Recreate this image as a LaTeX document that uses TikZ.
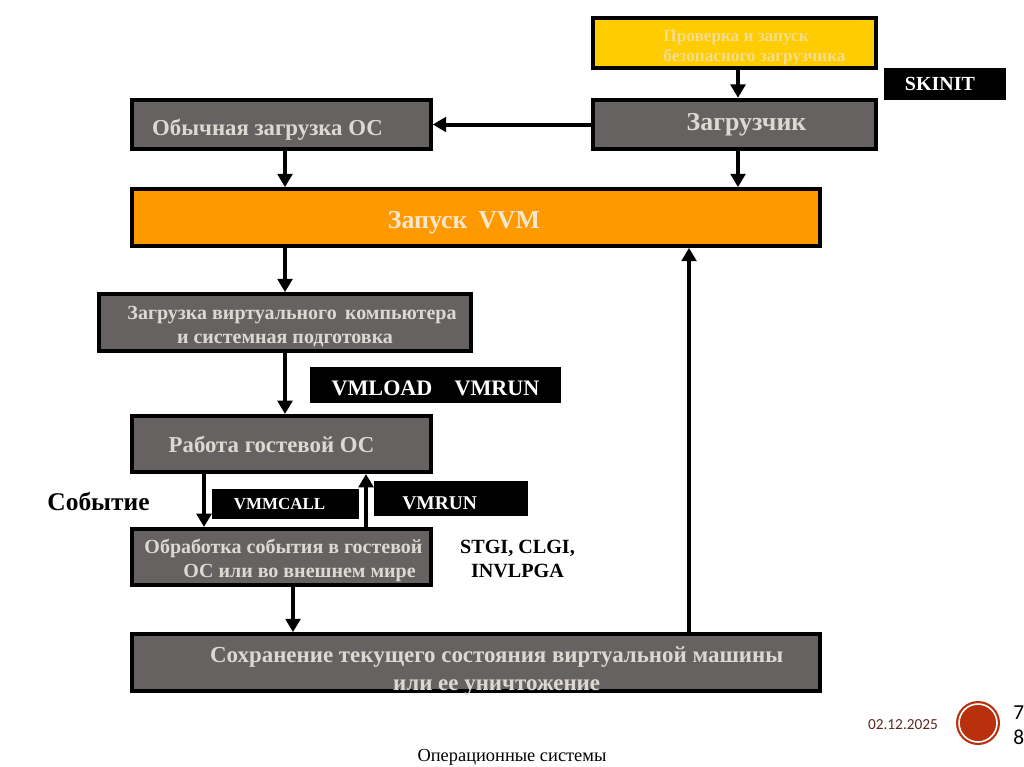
\documentclass[tikz,border=0pt]{standalone}
\usepackage{fontspec}
\setmainfont{Liberation Serif}
\newfontfamily\footfont{Carlito}
\usetikzlibrary{arrows.meta}
\usetikzlibrary{positioning}
\definecolor{boxgray}{HTML}{666262}
\definecolor{boxtext}{HTML}{DDD9D2}
\definecolor{boxyellow}{HTML}{FFCC00}
\definecolor{yellowtext}{HTML}{F2DC8E}
\definecolor{boxorange}{HTML}{FF9900}
\definecolor{orangetext}{HTML}{F5E6CF}
\definecolor{sealred}{HTML}{B8300C}
\definecolor{datecolor}{HTML}{5A2A22}
\newcommand{\lowered}[2]{\raisebox{-#1}[0pt][0pt]{#2}}
\begin{document}
\begin{tikzpicture}[x=0.75pt,y=-0.75pt]
\tikzset{stagebox/.style={rectangle,draw=black,line width=3pt,fill=boxgray,text=boxtext,font=\bfseries\fontsize{17.1pt}{20pt}\selectfont,inner sep=0pt},
cmdbox/.style={rectangle,fill=black,text=white,font=\bfseries\fontsize{15pt}{18pt}\selectfont,inner sep=0pt},
flow/.style={line width=3pt,-{Triangle[width=11pt,length=10pt]}},
note/.style={inner sep=0pt,align=center,font=\bfseries\fontsize{15.1pt}{18pt}\selectfont}}
\useasboundingbox (0,0) rectangle (1024,767);
\node[stagebox,minimum width=212.5pt,minimum height=37pt,font=\bfseries\fontsize{19.4pt}{22pt}\selectfont](loader) at (734.5,124.5){\hspace*{18pt}Загрузчик};
\node[stagebox,minimum width=212.5pt,minimum height=37pt,fill=boxyellow,text=yellowtext,font=\bfseries\fontsize{12.9pt}{15pt}\selectfont](check)[above=21pt of loader]{\lowered{6.5pt}{\begin{tabular}[c]{@{}l@{}}\hspace*{30pt}Проверка и запуск\\\hspace*{30pt}безопасного загрузчика\end{tabular}}};
\node[stagebox,minimum width=224pt,minimum height=37pt](plain) at (281.5,124.5){\lowered{8pt}{\hspace*{-21pt}Обычная загрузка ОС}};
\node[stagebox,minimum width=516pt,minimum height=42.5pt,fill=boxorange,text=orangetext,font=\bfseries\fontsize{19.4pt}{22pt}\selectfont](vvm) at (476,217.5){\lowered{8pt}{\hspace*{-18pt}Запуск\, VVM}};
\node[stagebox,minimum width=279pt,minimum height=42.5pt,font=\bfseries\fontsize{15pt}{18pt}\selectfont](prep) at (285,322.5){\lowered{7pt}{\begin{tabular}[c]{@{}c@{}}\hspace*{10.5pt}Загрузка виртуального\, компьютера\\и системная подготовка\end{tabular}}};
\node[stagebox,minimum width=224pt,minimum height=42pt](guest) at (281.5,444){\hspace*{-15pt}Работа гостевой ОС};
\node[stagebox,minimum width=224pt,minimum height=42pt,font=\bfseries\fontsize{15pt}{18pt}\selectfont](event) at (281.5,557){\lowered{6.7pt}{\begin{tabular}[c]{@{}c@{}}\hspace*{3pt}Обработка события в гостевой\\\hspace*{27pt}ОС или во внешнем мире\end{tabular}}};
\node[stagebox,minimum width=516pt,minimum height=42.5pt,font=\bfseries\fontsize{17.2pt}{21pt}\selectfont](save) at (476,662.5){\lowered{10.8pt}{\begin{tabular}[c]{@{}c@{}}\hspace*{31pt}Сохранение текущего состояния виртуальной машины\\\hspace*{31pt}или ее уничтожение\end{tabular}}};
% command labels
\node[cmdbox,minimum width=91.5pt,minimum height=24pt](skinit) at (945,84){\hspace*{-7.5pt}SKINIT};
\node[cmdbox,minimum width=188pt,minimum height=27pt,font=\bfseries\fontsize{16.6pt}{20pt}\selectfont](vmload) at (435.5,385){\lowered{7.5pt}{VMLOAD\hspace{1em}VMRUN}};
\node[cmdbox,minimum width=110pt,minimum height=22.5pt,font=\bfseries\fontsize{12.7pt}{15pt}\selectfont](vmmcall) at (285.5,504){\hspace*{-9pt}VMMCALL};
\node[cmdbox,minimum width=115.5pt,minimum height=26pt,font=\bfseries\fontsize{14.6pt}{18pt}\selectfont](vmrun) at (451,498.5){\lowered{8pt}{\hspace*{-17pt}VMRUN}};
% free text
\node[note,font=\bfseries\fontsize{19.1pt}{22pt}\selectfont](eventlabel) at (98.5,502){Событие};
\node[note](intercept) at (517.5,559){STGI, CLGI,\\INVLPGA};
% footer
\node[circle,fill=sealred,minimum size=33pt,inner sep=0pt](seal) at (978,723){};
\node[circle,draw=white,line width=1.2pt,minimum size=28.5pt,inner sep=0pt](ring) at (seal){};
\node[inner sep=0pt,text=datecolor,font=\footfont\fontsize{11.5pt}{14pt}\selectfont](date) at (903,725){02.12.2025};
\node[inner sep=0pt,anchor=west,align=left,font=\footfont\fontsize{16pt}{18.5pt}\selectfont](page) at (1013,725){7\\8};
\node[inner sep=0pt,font=\fontsize{13.8pt}{16pt}\selectfont](course) at (512,757){Операционные системы};
% arrows
\coordinate (rightx) at (738,0);
\coordinate (leftx) at (285,0);
\coordinate (downx) at (204,0);
\coordinate (upx) at (366,0);
\coordinate (savex) at (293,0);
\coordinate (backx) at (689,0);
\draw[flow](check.south -| rightx) -- (loader.north -| rightx);
\draw[flow](loader.south -| rightx) -- (vvm.north -| rightx);
\draw[flow](loader) -- (plain);
\draw[flow](plain.south -| leftx) -- (vvm.north -| leftx);
\draw[flow](vvm.south -| leftx) -- (prep.north -| leftx);
\draw[flow](prep.south -| leftx) -- (guest.north -| leftx);
\draw[flow](guest.south -| downx) -- (event.north -| downx);
\draw[flow](event.north -| upx) -- (guest.south -| upx);
\draw[flow](event.south -| savex) -- (save.north -| savex);
\draw[flow](save.north -| backx) -- (vvm.south -| backx);
\end{tikzpicture}
\end{document}
